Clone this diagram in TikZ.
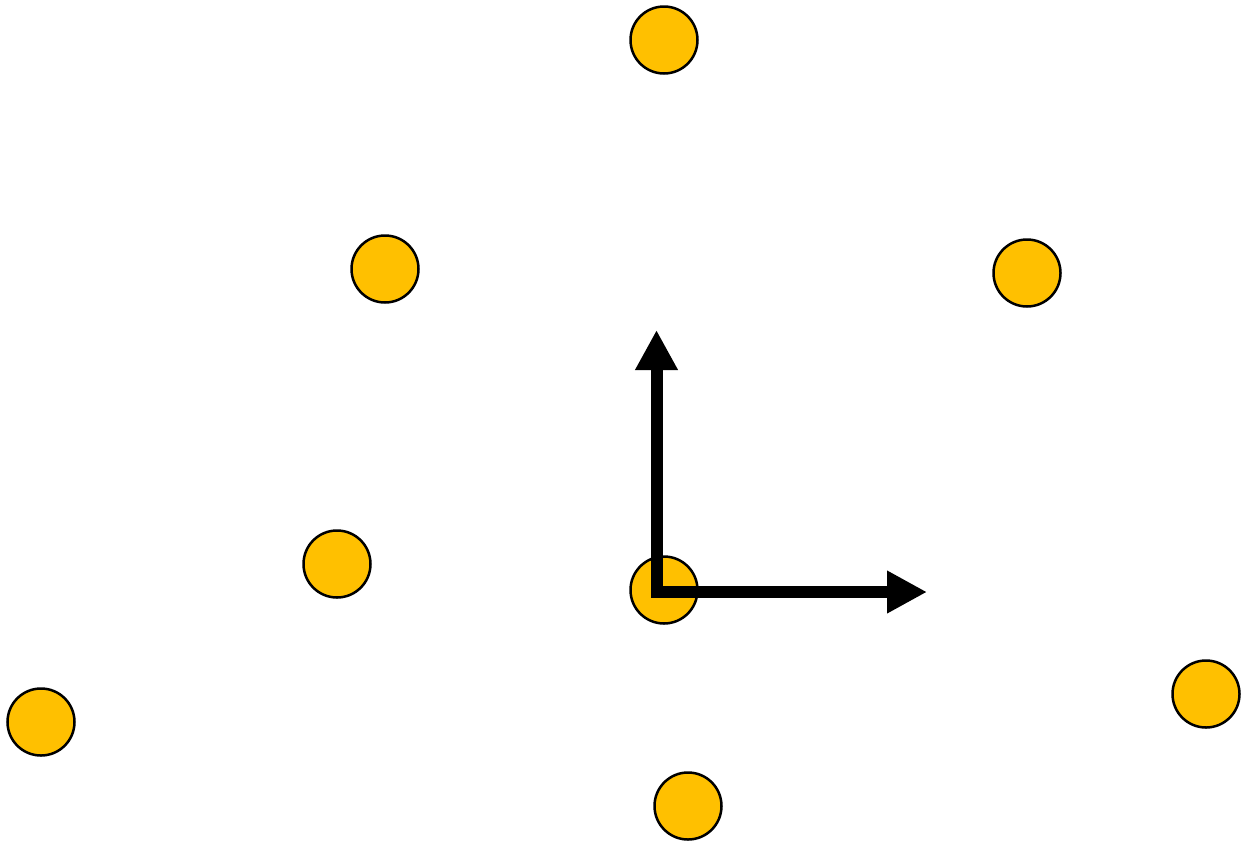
\documentclass[tikz,border=0pt]{standalone}
\usetikzlibrary{arrows.meta}
\definecolor{dotfill}{HTML}{FFC000}
\begin{document}
\begin{tikzpicture}[x=1pt,y=-1pt,
  dot/.style={circle,draw=black,line width=2.5pt,fill=dotfill,minimum size=67pt,inner sep=0pt},
  axis/.style={line width=12pt,line join=miter,{Triangle[length=40pt,width=40pt]}-{Triangle[length=40pt,width=40pt]}}]
\useasboundingbox (0,0) rectangle (1244,847);
\node[dot] (p1) at (664,40) {};
\node[dot] (p2) at (385,269) {};
\node[dot] (p3) at (1027,273) {};
\node[dot] (p4) at (337,564) {};
\node[dot] (o) at (664,590) {};
\node[dot] (p6) at (41,722) {};
\node[dot] (p7) at (1206,694) {};
\node[dot] (p8) at (688,806) {};
\coordinate (corner) at (656.5,592);
\coordinate (ytip) at (656.5,330);
\coordinate (xtip) at (927,592);
\draw[axis] (ytip) -- (corner) -- (xtip);
\end{tikzpicture}
\end{document}
